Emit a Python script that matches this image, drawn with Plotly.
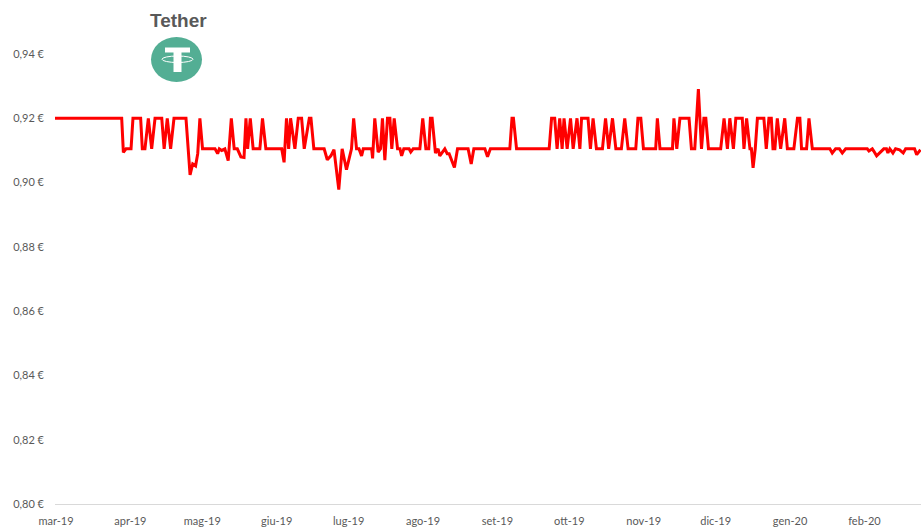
import pandas as pd
import plotly.graph_objects as go

H = 0.92
L = 0.9105

# Days since 1 March 2019, and the price read at that day
days = [0, 27.8, 28.5, 29.6, 31.7, 32.5, 35.7, 36.4, 37.5, 38.9, 40.3, 41.7, 44.5, 45.5, 46.8, 48.2, 49.6, 54.6, 56.3, 57.4,
        58.6, 59.5, 60.4, 61.5, 66.7, 67.8, 68.5, 69.5, 70.8, 72.2, 73.5, 74.7, 76.0, 77.5, 78.8, 79.6, 80.3, 81.4, 82.6, 85.4,
        86.5, 87.9, 94.5, 95.5, 96.5, 97.4, 98.2, 100, 101.4, 102.8, 103.9, 106, 106.7, 107.9, 112.2, 113.5, 115, 116.3, 118.3, 119.7,
        121.5, 123.6, 124.5, 125.7, 126.7, 127.8, 128.5, 132, 132.4, 133.3, 134.7, 135.7, 136.5, 137.5, 138.6, 139.6, 140.4, 141.4, 142.8, 143.8,
        144.5, 145.4, 147.6, 148.3, 149.3, 152.1, 153.3, 154.6, 155.8, 156.5, 157.2, 158.6, 159.7, 160.4, 162.5, 163.5, 164.3, 165.3, 166.5, 167.8,
        172.2, 173.5, 174.6, 179.2, 180.3, 181.5, 189.6, 190.5, 191.1, 192.4, 206, 207, 208.3, 209.3, 210.4, 211.4, 212.2, 213.5, 214.9, 216,
        217.6, 218.8, 219.5, 222.2, 223.2, 224.3, 225.7, 228.2, 229.5, 230.8, 232.4, 233.8, 236.1, 237.5, 238.9, 242.1, 243, 244.2, 245.3, 250.4,
        251.1, 252.2, 257.4, 258, 259.2, 260.5, 264.3, 265.3, 266.7, 268.2, 269.5, 270.5, 271.3, 272.4, 277.5, 278.9, 280.3, 281.3, 282.8, 283.8,
        286.5, 287.2, 288.3, 289.7, 290.3, 291, 291.9, 292.8, 295.5, 296.5, 297.6, 298.6, 299.3, 300.1, 301.1, 302.5, 304.2, 305.3, 308, 309.5,
        310.5, 311.2, 313.3, 314.3, 315.7, 320.8, 323, 324, 325.4, 327, 328.2, 329.6, 338.6, 339.3, 340.7, 341.3, 342.5, 345.5, 346.6, 347.2,
        348, 349.3, 350.4, 352.1, 353.6, 354.6, 358.3, 359.2, 360.8]
prices = [H, H, .9094, L, L, H, H, L, L, H, L, H, H, L, H, L, H, H, .9024, .9058,
          .9052, .909, H, L, L, .909, L, .91, L, .9068, H, L, L, .908, .9078, H, L, H, L, L,
          H, L, L, .9063, H, L, H, L, H, H, L, H, H, L, L, .9071, .9083, .9102, .8978, L,
          .904, L, H, L, L, .9083, L, L, .9075, H, .9095, L, H, .907, H, H, L, H, L, L,
          .9083, L, L, .9095, L, L, H, L, L, H, H, .9092, L, .9083, L, .909, .909, .907, .9047, L,
          L, .9058, L, L, .908, L, L, H, H, L, L, H, H, L, H, L, H, L, H, L,
          H, L, H, H, L, H, L, L, H, L, H, L, L, H, L, L, H, H, L, L,
          H, L, L, H, L, H, H, L, L, .9291, L, H, H, L, L, H, L, H, L, H,
          H, L, H, L, L, .9046, L, H, H, L, H, H, L, L, H, L, H, L, L, H,
          H, L, L, H, L, L, L, .9092, L, L, .9092, L, L, .9098, L, .9098, .9083, L, L, .9092,
          L, .9092, L, .9102, .9092, L, L, .9087, .9102]

month_starts = ["2019-03-01", "2019-04-01", "2019-05-01", "2019-06-01", "2019-07-01", "2019-08-01",
                "2019-09-01", "2019-10-01", "2019-11-01", "2019-12-01", "2020-01-01", "2020-02-01"]
month_labels = ["mar-19", "apr-19", "mag-19", "giu-19", "lug-19", "ago-19",
                "set-19", "ott-19", "nov-19", "dic-19", "gen-20", "feb-20"]
y_ticks = [0.80, 0.82, 0.84, 0.86, 0.88, 0.90, 0.92, 0.94]
y_labels = ["0,80 €", "0,82 €", "0,84 €", "0,86 €", "0,88 €", "0,90 €", "0,92 €", "0,94 €"]

base = pd.Timestamp("2019-03-01")
dates = [base + pd.Timedelta(days=d) for d in days]

W, H_PX = 921, 529
ML, MT, MB = 55, 54, 25
PW, PH = W - ML, H_PX - MT - MB


def px(x):
    return (x - ML) / PW


def py(y):
    return 1 - (y - MT) / PH


def box(kind, x0, y0, x1, y1, **kw):
    return dict(type=kind, xref="paper", yref="paper", x0=px(x0), x1=px(x1), y0=py(y0), y1=py(y1), **kw)


TEAL = "#53AE94"
logo = [
    box("circle", 151, 37, 202, 82, fillcolor=TEAL, line_width=0),
    box("rect", 165, 47.5, 190, 52.5, fillcolor="white", line_width=0),
    box("rect", 173.5, 52, 181.5, 72, fillcolor="white", line_width=0),
    box("circle", 162, 56, 193, 62.5, fillcolor="rgba(0,0,0,0)", line=dict(color="white", width=1)),
]

fig = go.Figure(go.Scatter(x=dates, y=prices, mode="lines", cliponaxis=False,
                           line=dict(color="#FF0000", width=3), hoverinfo="skip", showlegend=False))
fig.update_layout(
    width=W, height=H_PX, margin=dict(l=ML, r=0, t=MT, b=MB),
    paper_bgcolor="white", plot_bgcolor="white",
    font=dict(family="Lato, Carlito, sans-serif", size=11, color="#595959"),
    shapes=logo,
    annotations=[dict(text="<b>Tether</b>", xref="paper", yref="paper", x=px(178.5), y=py(20.5),
                      xanchor="center", yanchor="middle", showarrow=False,
                      font=dict(family="Liberation Sans", size=19, color="#595959"))],
)
fig.update_xaxes(range=[base, base + pd.Timedelta(days=361)], tickmode="array", tickvals=month_starts,
                 ticktext=month_labels, showgrid=False, showline=True, linecolor="#D9D9D9", linewidth=1,
                 ticks="", zeroline=False, tickangle=0, ticklabelstandoff=7, ticklabelshift=1)
fig.update_yaxes(range=[0.80, 0.94], tickmode="array", tickvals=y_ticks, ticktext=y_labels,
                 showgrid=False, showline=False, ticks="", zeroline=False, ticklabelstandoff=10)
fig.write_html("out.html", config={"displayModeBar": False}, post_script="document.body.style.margin='0';")
